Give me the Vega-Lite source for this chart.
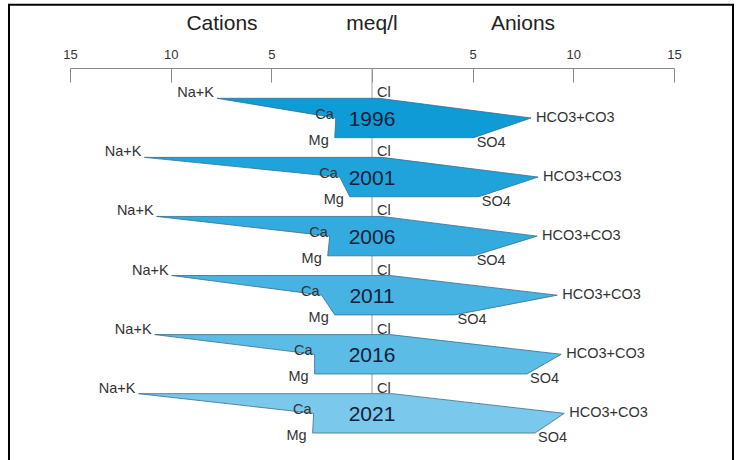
{
  "$schema": "https://vega.github.io/schema/vega-lite/v6.json",
  "width": 604,
  "height": 392,
  "autosize": {"type": "none"},
  "padding": {"left": 70, "top": 68, "right": 62, "bottom": 0},
  "background": "white",
  "config": {"view": {"stroke": null}, "font": "Liberation Sans"},
  "datasets": {
    "ions": [
      {"year": "1996", "row": "top", "pos": 0, "cation": -7.7, "anion": 0.35, "cationName": "Na+K", "anionName": "Cl"},
      {"year": "1996", "row": "mid", "pos": 1, "cation": -1.8, "anion": 7.9, "cationName": "Ca", "anionName": "HCO3+CO3"},
      {"year": "1996", "row": "bottom", "pos": 2, "cation": -1.85, "anion": 5.05, "cationName": "Mg", "anionName": "SO4"},
      {"year": "2001", "row": "top", "pos": 3, "cation": -11.3, "anion": 0.5, "cationName": "Na+K", "anionName": "Cl"},
      {"year": "2001", "row": "mid", "pos": 4, "cation": -1.6, "anion": 8.25, "cationName": "Ca", "anionName": "HCO3+CO3"},
      {"year": "2001", "row": "bottom", "pos": 5, "cation": -1.1, "anion": 5.3, "cationName": "Mg", "anionName": "SO4"},
      {"year": "2006", "row": "top", "pos": 6, "cation": -10.7, "anion": 0.5, "cationName": "Na+K", "anionName": "Cl"},
      {"year": "2006", "row": "mid", "pos": 7, "cation": -2.1, "anion": 8.2, "cationName": "Ca", "anionName": "HCO3+CO3"},
      {"year": "2006", "row": "bottom", "pos": 8, "cation": -2.2, "anion": 5.05, "cationName": "Mg", "anionName": "SO4"},
      {"year": "2011", "row": "top", "pos": 9, "cation": -9.95, "anion": 0.9, "cationName": "Na+K", "anionName": "Cl"},
      {"year": "2011", "row": "mid", "pos": 10, "cation": -2.5, "anion": 9.2, "cationName": "Ca", "anionName": "HCO3+CO3"},
      {"year": "2011", "row": "bottom", "pos": 11, "cation": -1.85, "anion": 4.1, "cationName": "Mg", "anionName": "SO4"},
      {"year": "2016", "row": "top", "pos": 12, "cation": -10.8, "anion": 0.9, "cationName": "Na+K", "anionName": "Cl"},
      {"year": "2016", "row": "mid", "pos": 13, "cation": -2.85, "anion": 9.4, "cationName": "Ca", "anionName": "HCO3+CO3"},
      {"year": "2016", "row": "bottom", "pos": 14, "cation": -2.85, "anion": 7.7, "cationName": "Mg", "anionName": "SO4"},
      {"year": "2021", "row": "top", "pos": 15, "cation": -11.6, "anion": 1.0, "cationName": "Na+K", "anionName": "Cl"},
      {"year": "2021", "row": "mid", "pos": 16, "cation": -2.9, "anion": 9.55, "cationName": "Ca", "anionName": "HCO3+CO3"},
      {"year": "2021", "row": "bottom", "pos": 17, "cation": -2.95, "anion": 8.1, "cationName": "Mg", "anionName": "SO4"}
    ],
    "header": [
      {"label": "Cations", "x": -7.45},
      {"label": "meq/l", "x": 0},
      {"label": "Anions", "x": 7.5}
    ]
  },
  "data": {"name": "ions"},
  "layer": [
    {
      "data": {"values": [{}]},
      "mark": {"type": "rect", "fill": null, "stroke": "#000000", "strokeWidth": 2},
      "encoding": {
        "x": {"datum": -18.03, "type": "quantitative", "scale": {"domain": [-15, 15], "nice": false, "zero": false},
          "axis": {"orient": "top", "title": null, "values": [-15, -10, -5, 0, 5, 10, 15], "labelExpr": "datum.value == 0 ? '' : format(abs(datum.value), 'd')", "grid": false, "tickSize": -14, "labelPadding": 21, "domainColor": "#8a8a8a", "tickColor": "#8a8a8a", "labelColor": "#333333", "labelFontSize": 13, "labelFont": "Liberation Sans", "labelFlush": false}},
        "x2": {"datum": 17.93},
        "y": {"datum": -4.75, "type": "quantitative", "scale": {"domain": [-1.539, 18.37], "nice": false, "zero": false, "reverse": true}, "axis": null},
        "y2": {"datum": 21}
      }
    },
    {
      "data": {"values": [{}]},
      "mark": {"type": "rule", "color": "#a0a0a0", "strokeWidth": 1},
      "encoding": {
        "x": {"datum": 0, "type": "quantitative", "scale": {"domain": [-15, 15], "nice": false, "zero": false}},
        "y": {"datum": -1.539, "type": "quantitative", "scale": {"domain": [-1.539, 18.37], "nice": false, "zero": false, "reverse": true}, "axis": null},
        "y2": {"datum": 17}
      }
    },
    {
      "mark": {"type": "area", "orient": "horizontal", "stroke": "#3a6f8a", "strokeWidth": 0.8, "opacity": 1},
      "encoding": {
        "y": {"field": "pos", "type": "quantitative", "scale": {"domain": [-1.539, 18.37], "nice": false, "zero": false, "reverse": true}, "axis": null},
        "x": {"field": "cation", "type": "quantitative", "scale": {"domain": [-15, 15], "nice": false, "zero": false}},
        "x2": {"field": "anion"},
        "color": {"field": "year", "type": "nominal", "legend": null, "scale": {"domain": ["1996", "2001", "2006", "2011", "2016", "2021"], "range": ["#0e9bd6", "#20a3db", "#33abdf", "#46b3e2", "#5bbce6", "#7ac8ec"]}},
        "detail": {"field": "year"}
      }
    },
    {
      "transform": [{"filter": {"field": "row", "equal": "top"}}],
      "mark": {"type": "text", "align": "right", "baseline": "alphabetic", "dx": -3, "dy": -1, "fontSize": 14.5, "color": "#333333"},
      "encoding": {
        "x": {"field": "cation", "type": "quantitative", "scale": {"domain": [-15, 15], "nice": false, "zero": false}},
        "y": {"field": "pos", "type": "quantitative", "scale": {"domain": [-1.539, 18.37], "nice": false, "zero": false, "reverse": true}, "axis": null},
        "text": {"field": "cationName"}
      }
    },
    {
      "transform": [{"filter": {"field": "row", "equal": "top"}}],
      "mark": {"type": "text", "align": "left", "baseline": "alphabetic", "dx": 5, "dy": -1, "fontSize": 14.5, "color": "#333333"},
      "encoding": {
        "x": {"datum": 0, "type": "quantitative", "scale": {"domain": [-15, 15], "nice": false, "zero": false}},
        "y": {"field": "pos", "type": "quantitative", "scale": {"domain": [-1.539, 18.37], "nice": false, "zero": false, "reverse": true}, "axis": null},
        "text": {"field": "anionName"}
      }
    },
    {
      "transform": [{"filter": {"field": "row", "equal": "mid"}}],
      "mark": {"type": "text", "align": "right", "baseline": "middle", "dx": -2, "dy": -3, "fontSize": 14.5, "color": "#333333"},
      "encoding": {
        "x": {"field": "cation", "type": "quantitative", "scale": {"domain": [-15, 15], "nice": false, "zero": false}},
        "y": {"field": "pos", "type": "quantitative", "scale": {"domain": [-1.539, 18.37], "nice": false, "zero": false, "reverse": true}, "axis": null},
        "text": {"field": "cationName"}
      }
    },
    {
      "transform": [{"filter": {"field": "row", "equal": "mid"}}],
      "mark": {"type": "text", "align": "left", "baseline": "middle", "dx": 5, "dy": 0, "fontSize": 14.5, "color": "#333333"},
      "encoding": {
        "x": {"field": "anion", "type": "quantitative", "scale": {"domain": [-15, 15], "nice": false, "zero": false}},
        "y": {"field": "pos", "type": "quantitative", "scale": {"domain": [-1.539, 18.37], "nice": false, "zero": false, "reverse": true}, "axis": null},
        "text": {"field": "anionName"}
      }
    },
    {
      "transform": [{"filter": {"field": "row", "equal": "bottom"}}],
      "mark": {"type": "text", "align": "right", "baseline": "alphabetic", "dx": -6, "dy": 7, "fontSize": 14.5, "color": "#333333"},
      "encoding": {
        "x": {"field": "cation", "type": "quantitative", "scale": {"domain": [-15, 15], "nice": false, "zero": false}},
        "y": {"field": "pos", "type": "quantitative", "scale": {"domain": [-1.539, 18.37], "nice": false, "zero": false, "reverse": true}, "axis": null},
        "text": {"field": "cationName"}
      }
    },
    {
      "transform": [{"filter": {"field": "row", "equal": "bottom"}}],
      "mark": {"type": "text", "align": "left", "baseline": "alphabetic", "dx": 3, "dy": 9, "fontSize": 14.5, "color": "#333333"},
      "encoding": {
        "x": {"field": "anion", "type": "quantitative", "scale": {"domain": [-15, 15], "nice": false, "zero": false}},
        "y": {"field": "pos", "type": "quantitative", "scale": {"domain": [-1.539, 18.37], "nice": false, "zero": false, "reverse": true}, "axis": null},
        "text": {"field": "anionName"}
      }
    },
    {
      "transform": [{"filter": {"field": "row", "equal": "mid"}}],
      "mark": {"type": "text", "align": "center", "baseline": "middle", "dy": 2, "fontSize": 21, "color": "#12213a"},
      "encoding": {
        "x": {"datum": 0, "type": "quantitative", "scale": {"domain": [-15, 15], "nice": false, "zero": false}},
        "y": {"field": "pos", "type": "quantitative", "scale": {"domain": [-1.539, 18.37], "nice": false, "zero": false, "reverse": true}, "axis": null},
        "text": {"field": "year"}
      }
    },
    {
      "data": {"name": "header"},
      "mark": {"type": "text", "align": "center", "baseline": "alphabetic", "fontSize": 21, "color": "#222222"},
      "encoding": {
        "x": {"field": "x", "type": "quantitative", "scale": {"domain": [-15, 15], "nice": false, "zero": false}},
        "y": {"datum": -3.47, "type": "quantitative", "scale": {"domain": [-1.539, 18.37], "nice": false, "zero": false, "reverse": true}, "axis": null},
        "text": {"field": "label"}
      }
    }
  ]
}
